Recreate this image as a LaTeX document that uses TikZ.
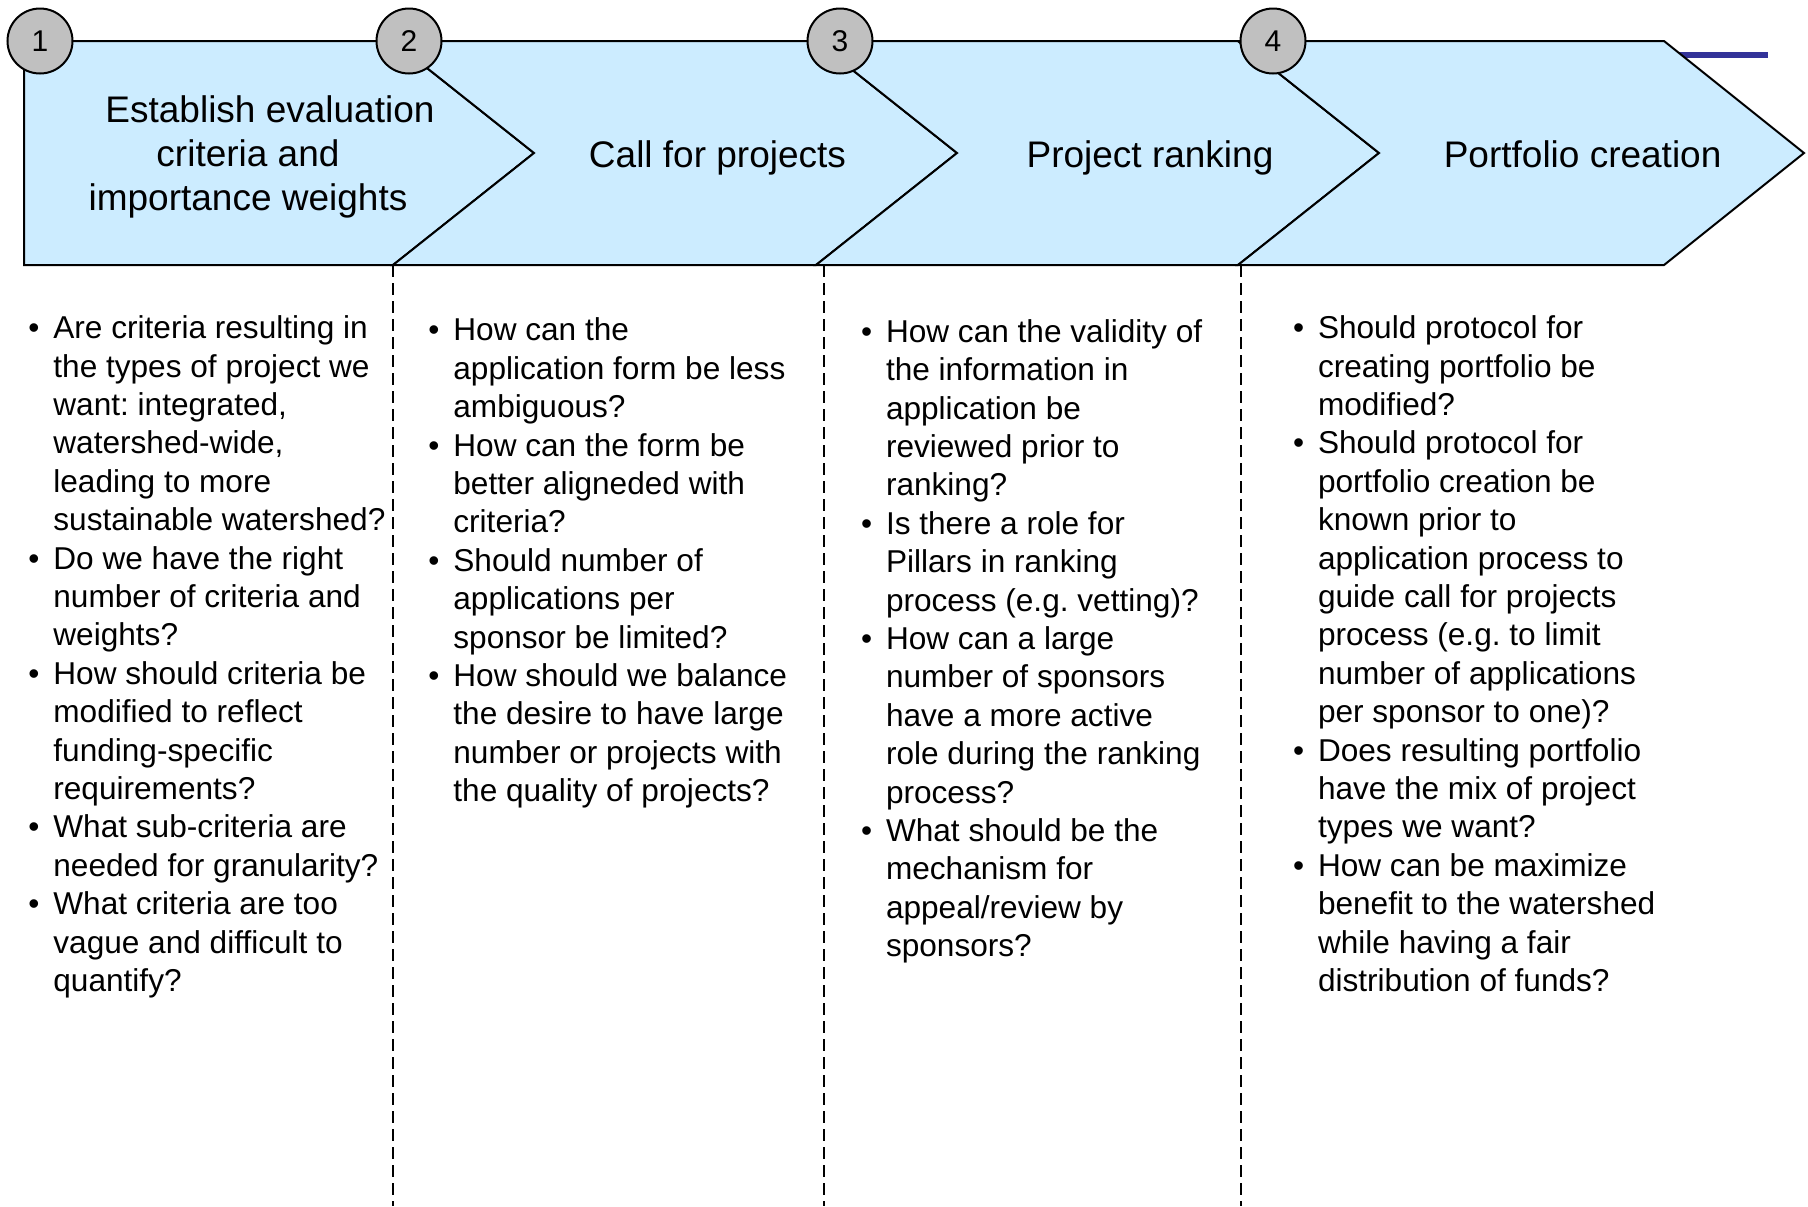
\documentclass[tikz,border=0pt]{standalone}
\usepackage{fontspec}
\setmainfont{Liberation Sans}
\frenchspacing
\definecolor{stagefill}{HTML}{CCECFF}
\definecolor{numfill}{HTML}{C0C0C0}
\definecolor{barblue}{HTML}{333399}
\newcommand{\qbul}{\makebox[12.5pt][l]{\textbullet}}
\newcommand{\qind}{\hspace*{12.5pt}}

\begin{document}
\begin{tikzpicture}[x=0.5pt, y=-0.5pt,
    stage/.style={draw=black, line width=1pt, fill=stagefill, line join=miter},
    num/.style={circle, draw=black, line width=1pt, fill=numfill, minimum size=32.5pt, inner sep=0pt, font=\fontsize{15}{18}\selectfont},
    head/.style={align=center, inner sep=0pt, font=\fontsize{18.5}{22.2}\selectfont},
    qcol/.style={anchor=north west, align=left, inner sep=0pt, font=\fontsize{15.8}{19.2}\selectfont},
    divider/.style={line width=1pt, dash pattern=on 6pt off 3pt}]
      \useasboundingbox (0,0) rectangle (1808,1206);
      \fill[white] (0,0) rectangle (1808,1206);
      \draw[barblue, line width=3pt] (1660,55) -- (1768,55);
      \draw[stage] (24,41) -- (393,41) -- (534,153) -- (393,265) -- (24,265) -- cycle;
      \draw[stage] (393,41) -- (816,41) -- (957,153) -- (816,265) -- (393,265) -- (534,153) -- cycle;
      \draw[stage] (816,41) -- (1238,41) -- (1379,153) -- (1238,265) -- (816,265) -- (957,153) -- cycle;
      \draw[stage] (1238,41) -- (1664,41) -- (1804,153) -- (1664,265) -- (1238,265) -- (1379,153) -- cycle;
      \draw[divider] (393,265) -- (393,1206);
      \draw[divider] (824,265) -- (824,1206);
      \draw[divider] (1241,265) -- (1241,1206);
      \node[num] (n1) at (40,41) {1};
      \node[num] (n2) at (409,41) {2};
      \node[num] (n3) at (840,41) {3};
      \node[num] (n4) at (1273,41) {4};
      \node[head, anchor=north] (h1) at (248,90.7) {\strut\hspace*{22pt}Establish evaluation\\criteria and\\importance weights};
      \node[head, anchor=base] (h2) at (717.5,167) {Call for projects};
      \node[head, anchor=base] (h3) at (1150,167) {Project ranking};
      \node[head, anchor=base] (h4) at (1582.6,167) {Portfolio creation};
      \node[qcol] (q1) at (28,311.4) {\strut\qbul Are criteria resulting in\\
        \qind the types of project we\\
        \qind want: integrated,\\
        \qind watershed-wide,\\
        \qind leading to more\\
        \qind sustainable watershed?\\
        \qbul Do we have the right\\
        \qind number of criteria and\\
        \qind weights?\\
        \qbul How should criteria be\\
        \qind modified to reflect\\
        \qind funding-specific\\
        \qind requirements?\\
        \qbul What sub-criteria are\\
        \qind needed for granularity?\\
        \qbul What criteria are too\\
        \qind vague and difficult to\\
        \qind quantify?};
      \node[qcol] (q2) at (428,313.7) {\strut\qbul How can the\\
        \qind application form be less\\
        \qind ambiguous?\\
        \qbul How can the form be\\
        \qind better aligneded with\\
        \qind criteria?\\
        \qbul Should number of\\
        \qind applications per\\
        \qind sponsor be limited?\\
        \qbul How should we balance\\
        \qind the desire to have large\\
        \qind number or projects with\\
        \qind the quality of projects?};
      \node[qcol] (q3) at (860.6,315) {\strut\qbul How can the validity of\\
        \qind the information in\\
        \qind application be\\
        \qind reviewed prior to\\
        \qind ranking?\\
        \qbul Is there a role for\\
        \qind Pillars in ranking\\
        \qind process (e.g. vetting)?\\
        \qbul How can a large\\
        \qind number of sponsors\\
        \qind have a more active\\
        \qind role during the ranking\\
        \qind process?\\
        \qbul What should be the\\
        \qind mechanism for\\
        \qind appeal/review by\\
        \qind sponsors?};
      \node[qcol] (q4) at (1292.6,311.4) {\strut\qbul Should protocol for\\
        \qind creating portfolio be\\
        \qind modified?\\
        \qbul Should protocol for\\
        \qind portfolio creation be\\
        \qind known prior to\\
        \qind application process to\\
        \qind guide call for projects\\
        \qind process (e.g. to limit\\
        \qind number of applications\\
        \qind per sponsor to one)?\\
        \qbul Does resulting portfolio\\
        \qind have the mix of project\\
        \qind types we want?\\
        \qbul How can be maximize\\
        \qind benefit to the watershed\\
        \qind while having a fair\\
        \qind distribution of funds?};
    \end{tikzpicture}
\end{document}
